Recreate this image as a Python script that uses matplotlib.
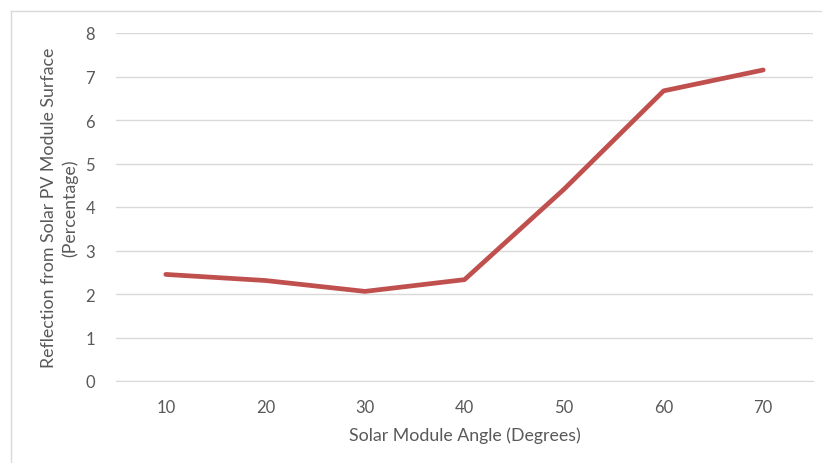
import matplotlib.pyplot as plt
from matplotlib.lines import Line2D

angles = ["10", "20", "30", "40", "50", "60", "70"]
reflection = [2.45, 2.31, 2.06, 2.33, 4.41, 6.67, 7.15]

text_color = "#595959"
grid_color = "#d9d9d9"
line_color = "#c0504d"

plt.rcParams["font.family"] = ["Lato", "DejaVu Sans"]

fig = plt.figure(figsize=(8.22, 4.64), dpi=100)
ax = fig.add_axes([116 / 822, 1 - 382 / 464, 697 / 822, 348 / 464])

x = range(len(angles))
ax.plot(x, reflection, color=line_color, linewidth=3.4, solid_capstyle="round",
        solid_joinstyle="round", zorder=3)

ax.set_xlim(-0.5, len(angles) - 0.5)
ax.set_ylim(0, 8)
ax.set_yticks(range(0, 9))
ax.set_xticks(list(x))
ax.set_xticklabels(angles)

ax.grid(axis="y", color=grid_color, linewidth=1)
ax.set_axisbelow(True)
for side in ["top", "right", "left"]:
    ax.spines[side].set_visible(False)
ax.spines["bottom"].set_color(grid_color)
ax.tick_params(axis="both", length=0, colors=text_color, labelsize=12)
ax.tick_params(axis="x", pad=13)
ax.tick_params(axis="y", pad=15)

ax.set_xlabel("Solar Module Angle (Degrees)", color=text_color, fontsize=12.8, labelpad=8.5)
ax.set_ylabel("Reflection from Solar PV Module Surface\n(Percentage)",
              color=text_color, fontsize=12.8, labelpad=5, linespacing=1.35)

# chart area border (left and top edges)
fig.add_artist(Line2D([11 / 822, 11 / 822], [0, 1 - 12 / 464], color="#d9d9d9",
                      linewidth=1, transform=fig.transFigure))
fig.add_artist(Line2D([11 / 822, 1], [1 - 12 / 464, 1 - 12 / 464], color="#d9d9d9",
                      linewidth=1, transform=fig.transFigure))

fig.savefig("out.png", dpi=100)
